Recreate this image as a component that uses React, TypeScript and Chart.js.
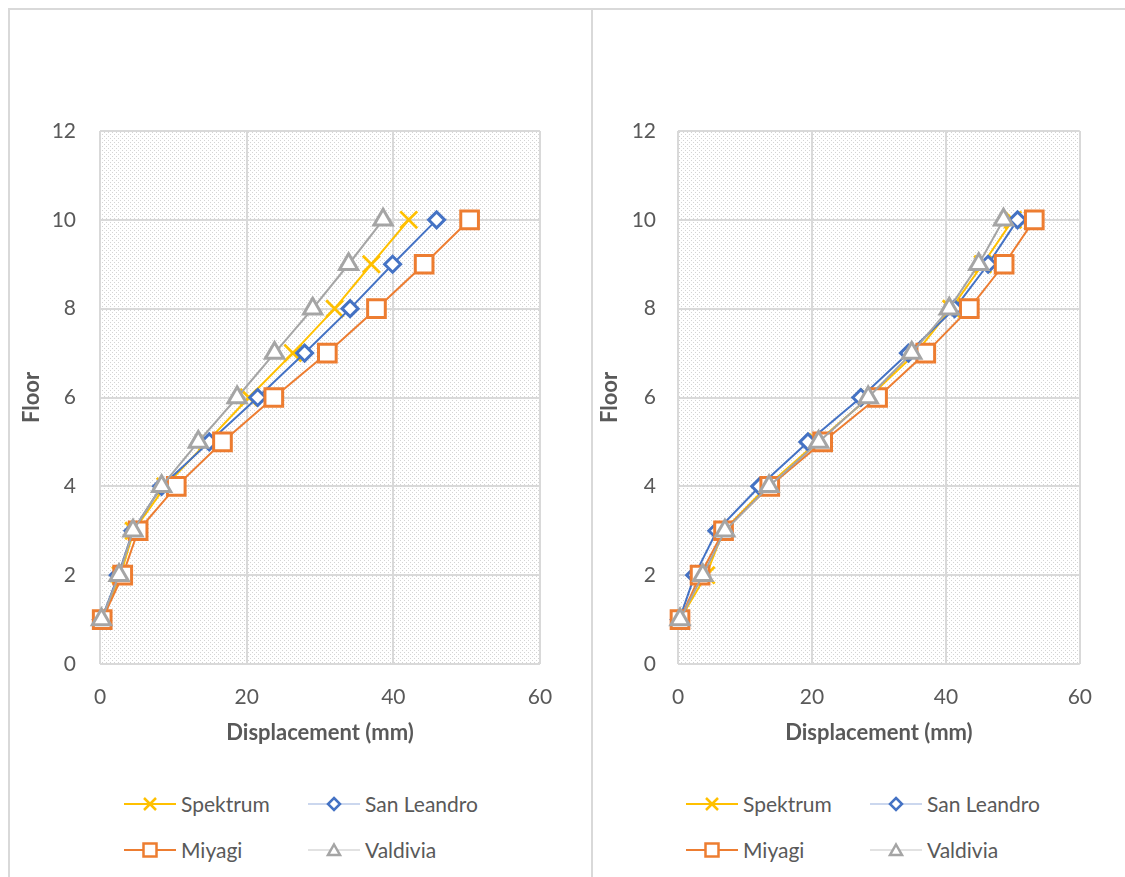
import React, { useEffect, useRef } from "react";
import { Chart, registerables } from "chart.js";
Chart.register(...registerables);

const floors = [1, 2, 3, 4, 5, 6, 7, 8, 9, 10];
const seriesNames = ["Spektrum", "San Leandro", "Miyagi", "Valdivia"];
const xAxisTitle = "Displacement (mm)";
const yAxisTitle = "Floor";

// Left panel
const spektrumL = [0.3, 2.8, 4.6, 8.9, 14.6, 20.3, 26.3, 32.0, 37.0, 42.1];
const sanLeandroL = [0.2, 2.5, 4.5, 8.4, 14.9, 21.5, 27.9, 34.1, 39.9, 45.9];
const miyagiL = [0.3, 3.1, 5.2, 10.4, 16.7, 23.7, 31.0, 37.7, 44.2, 50.4];
const valdiviaL = [0.2, 2.6, 4.5, 8.4, 13.4, 18.7, 23.8, 29.0, 33.9, 38.6];

// Right panel
const spektrumR = [0.3, 4.2, 6.8, 13.3, 20.8, 28.5, 35.5, 40.8, 45.5, 50.0];
const sanLeandroR = [0.2, 2.5, 5.8, 12.2, 19.4, 27.3, 34.4, 41.3, 46.3, 50.7];
const miyagiR = [0.3, 3.3, 6.8, 13.7, 21.6, 29.8, 37.0, 43.5, 48.7, 53.2];
const valdiviaR = [0.3, 3.7, 7.0, 13.6, 21.0, 28.4, 34.9, 40.5, 44.9, 48.6];

const xMin = 0, xMax = 60, xStep = 20;
const yMin = 0, yMax = 12, yStep = 2;

const COLORS = ["#FFC000", "#4472C4", "#ED7D31", "#A5A5A5"];
const LEGEND_LINE = ["#FFC000", "#CBD7EE", "#ED7D31", "#E2E2E2"];
const TEXT = "#595959";
const GRID = "#D9D9D9";
const FONT = "Lato, 'Open Sans', sans-serif";

function makePattern(ctx: CanvasRenderingContext2D) {
  const c = document.createElement("canvas");
  c.width = 8;
  c.height = 8;
  const g = c.getContext("2d")!;
  g.fillStyle = "#ffffff";
  g.fillRect(0, 0, 8, 8);
  g.fillStyle = "#D4D4D4";
  for (let y = 0; y < 8; y++) {
    for (let x = 0; x < 8; x++) {
      const d = (x - y + 16) % 4;
      const s = (x + y) % 4;
      if (d === 0 && s < 2) g.fillRect(x, y, 1, 1);
    }
  }
  return ctx.createPattern(c, "repeat")!;
}

const patternPlugin = {
  id: "plotPattern",
  beforeDraw(chart: any) {
    const { ctx, chartArea: a } = chart;
    ctx.save();
    ctx.fillStyle = makePattern(ctx);
    ctx.fillRect(a.left, a.top, a.width, a.height);
    ctx.restore();
  },
};

type PanelProps = {
  left: number;
  width: number;
  yAxisWidth: number;
  rightPad: number;
  tickPad: number;
  yTitlePad: number;
  values: number[][];
  legendLeft: number;
};

function Marker({ i }: { i: number }) {
  const c = COLORS[i];
  if (i === 0)
    return (
      <g stroke={c} strokeWidth={2.5}>
        <line x1={20} y1={5} x2={32} y2={17} />
        <line x1={32} y1={5} x2={20} y2={17} />
      </g>
    );
  if (i === 1)
    return <polygon points="26,5 32,11 26,17 20,11" fill="#fff" stroke={c} strokeWidth={2.5} />;
  if (i === 2)
    return <rect x={19.5} y={4.5} width={13} height={13} fill="#fff" stroke={c} strokeWidth={2.5} />;
  return <polygon points="26,5.5 32,16 20,16" fill="#fff" stroke={c} strokeWidth={2.5} />;
}

function LegendItem({ i, x, y }: { i: number; x: number; y: number }) {
  return (
    <div
      style={{
        position: "absolute",
        left: x,
        top: y - 11,
        display: "flex",
        alignItems: "center",
        height: 22,
        whiteSpace: "nowrap",
      }}
    >
      <svg width={52} height={22} style={{ display: "block" }}>
        <line x1={0} y1={11} x2={52} y2={11} stroke={LEGEND_LINE[i]} strokeWidth={2} />
        <Marker i={i} />
      </svg>
      <span style={{ marginLeft: 5, font: `21px ${FONT}`, color: TEXT, lineHeight: "22px" }}>
        {seriesNames[i]}
      </span>
    </div>
  );
}

function Panel(p: PanelProps) {
  const ref = useRef<HTMLCanvasElement>(null);
  useEffect(() => {
    const styles = [
      { pointStyle: "crossRot", radius: 12, bw: 2.75, order: 3 },
      { pointStyle: "rectRot", radius: 8, bw: 3, order: 2 },
      { pointStyle: "rect", radius: 12.5, bw: 3, order: 1 },
      { pointStyle: "triangle", radius: 10.5, bw: 3, order: 0 },
    ];
    const chart = new Chart(ref.current!, {
      type: "scatter",
      data: {
        datasets: p.values.map((vals, i) => ({
          label: seriesNames[i],
          data: vals.map((v, k) => ({ x: v, y: floors[k] })),
          showLine: true,
          borderColor: COLORS[i],
          backgroundColor: i === 0 ? COLORS[i] : "#ffffff",
          borderWidth: 2,
          pointStyle: styles[i].pointStyle as any,
          pointRadius: styles[i].radius,
          pointBorderWidth: styles[i].bw,
          pointBorderColor: COLORS[i],
          pointBackgroundColor: "#ffffff",
          order: styles[i].order,
          clip: false as any,
        })),
      },
      options: {
        animation: false,
        responsive: false,
        maintainAspectRatio: false,
        layout: { padding: { top: 121, right: p.rightPad, left: 0, bottom: 0 } },
        plugins: { legend: { display: false }, tooltip: { enabled: false } },
        scales: {
          x: {
            type: "linear",
            min: xMin,
            max: xMax,
            ticks: { stepSize: xStep, color: TEXT, font: { family: FONT, size: 21 }, padding: 21 },
            grid: { color: GRID, lineWidth: 2, drawTicks: false },
            border: { display: false },
            title: {
              display: true,
              text: xAxisTitle,
              color: TEXT,
              font: { family: FONT, size: 22, weight: "bold" },
              padding: { top: 0, bottom: 24 },
            },
            afterFit: (s: any) => {
              s.height = 106;
            },
          },
          y: {
            type: "linear",
            min: yMin,
            max: yMax,
            ticks: { stepSize: yStep, color: TEXT, font: { family: FONT, size: 21 }, padding: p.tickPad },
            grid: { color: GRID, lineWidth: 2, drawTicks: false },
            border: { display: false },
            title: {
              display: true,
              text: yAxisTitle,
              color: TEXT,
              font: { family: FONT, size: 22, weight: "bold" },
              padding: { top: p.yTitlePad, bottom: 0 },
            },
            afterFit: (s: any) => {
              s.width = p.yAxisWidth;
            },
          },
        },
      },
      plugins: [patternPlugin],
    });
    return () => chart.destroy();
  }, []);

  const L = p.legendLeft;
  return (
    <>
      <canvas
        ref={ref}
        width={p.width}
        height={760}
        style={{ position: "absolute", left: p.left, top: 10, width: p.width, height: 760 }}
      />
      <LegendItem i={0} x={L} y={804} />
      <LegendItem i={1} x={L + 184} y={804} />
      <LegendItem i={2} x={L} y={850} />
      <LegendItem i={3} x={L + 184} y={850} />
    </>
  );
}

export default function App() {
  return (
    <div
      style={{
        position: "fixed",
        left: 0,
        top: 0,
        width: 1125,
        height: 877,
        overflow: "hidden",
        background: "#fff",
      }}
    >
      <div
        style={{
          position: "absolute",
          left: 8,
          top: 8,
          width: 585,
          height: 900,
          border: "2px solid #D9D9D9",
          boxSizing: "border-box",
        }}
      />
      <div
        style={{
          position: "absolute",
          left: 591,
          top: 8,
          width: 600,
          height: 900,
          border: "2px solid #D9D9D9",
          boxSizing: "border-box",
        }}
      />
      <Panel
        left={10}
        width={580}
        yAxisWidth={90}
        rightPad={50}
        tickPad={24}
        yTitlePad={9}
        values={[spektrumL, sanLeandroL, miyagiL, valdiviaL]}
        legendLeft={124}
      />
      <Panel
        left={593}
        width={520}
        yAxisWidth={85}
        rightPad={31}
        tickPad={22}
        yTitlePad={4}
        values={[spektrumR, sanLeandroR, miyagiR, valdiviaR]}
        legendLeft={686}
      />
    </div>
  );
}
